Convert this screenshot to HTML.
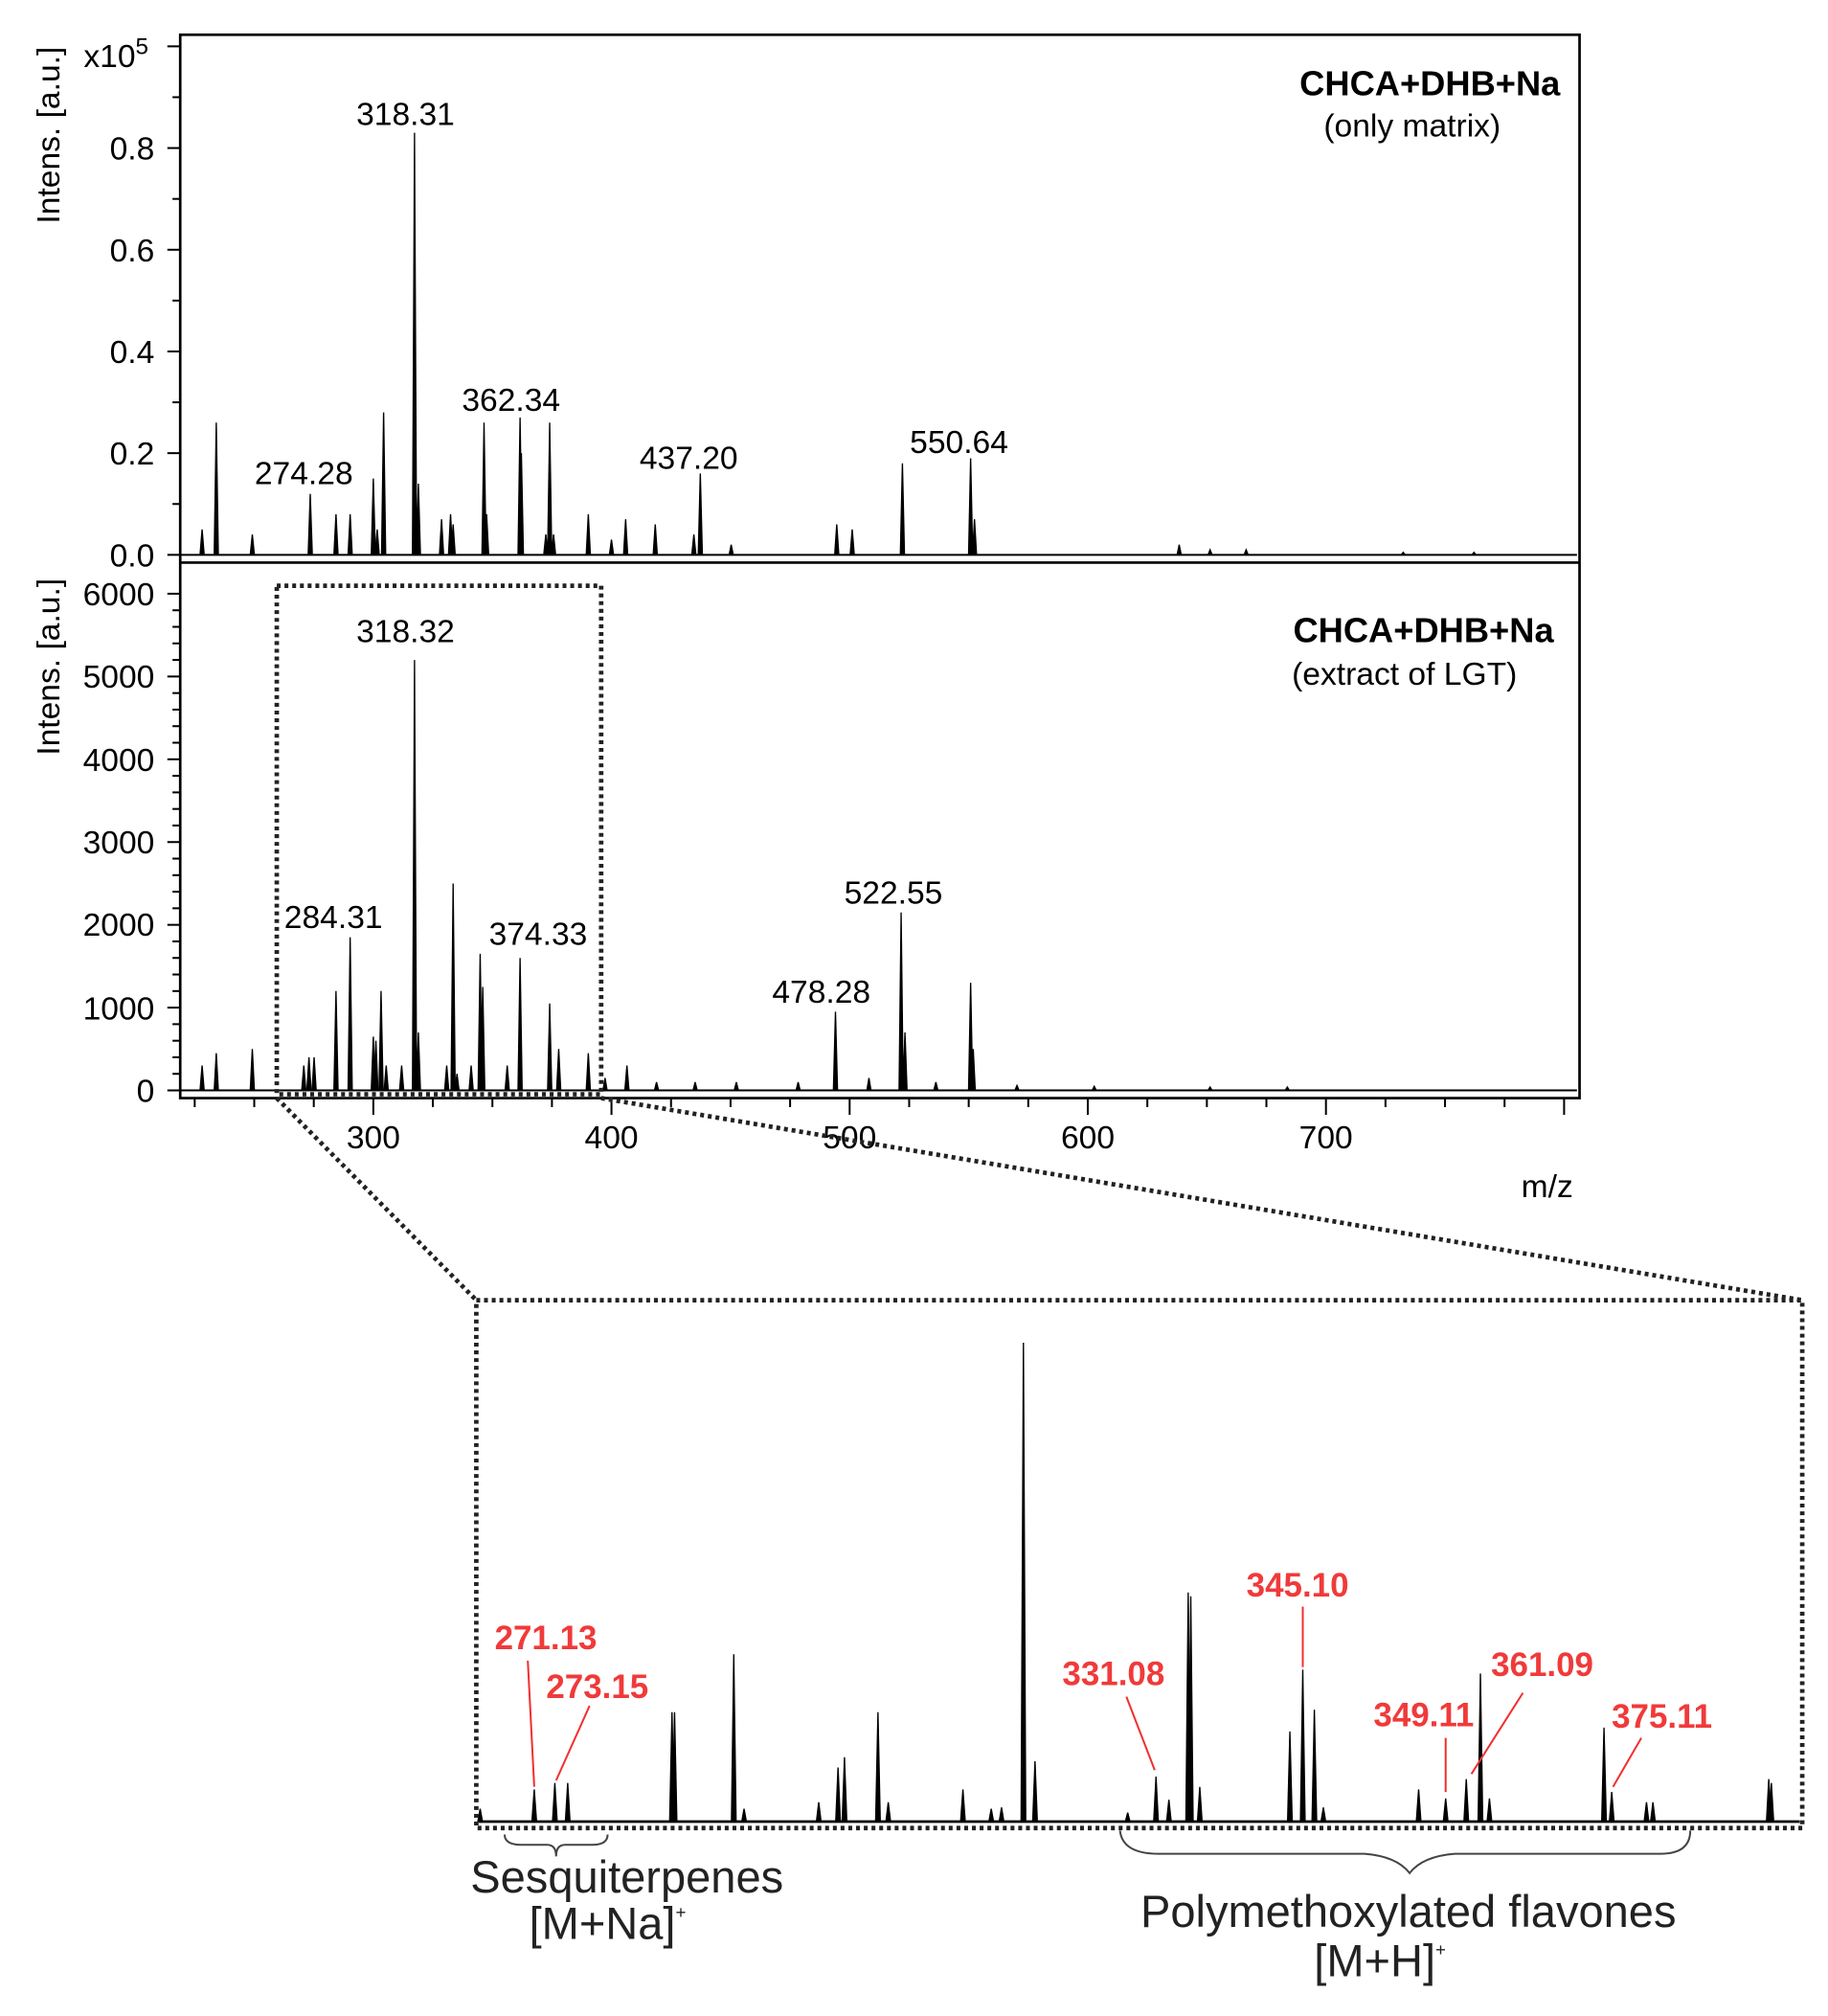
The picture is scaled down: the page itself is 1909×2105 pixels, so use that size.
<!DOCTYPE html>
<html><head><meta charset="utf-8"><style>
html,body{margin:0;padding:0;background:#fff;}
svg{display:block;}
text{font-family:"Liberation Sans",Arial,sans-serif;}
</style></head><body>
<svg id="s" width="1909" height="2105" viewBox="0 0 1420 1566" preserveAspectRatio="none" xmlns="http://www.w3.org/2000/svg">
<rect x="140" y="27" width="1087" height="826" fill="none" stroke="#000" stroke-width="2"/>
<line x1="140" y1="437" x2="1227" y2="437" stroke="#000" stroke-width="2"/>
<line x1="140" y1="431" x2="1225" y2="431" stroke="#000" stroke-width="1.5"/>
<line x1="140" y1="847" x2="1225" y2="847" stroke="#000" stroke-width="1.5"/>
<g id="ticks" stroke="#000" stroke-width="1.5"></g>
<g id="peaks" fill="#000" stroke="#000" stroke-width="1"></g>
<g font-size="25" fill="#000">
<text x="120" y="440" text-anchor="end">0.0</text>
<text x="120" y="361" text-anchor="end">0.2</text>
<text x="120" y="282" text-anchor="end">0.4</text>
<text x="120" y="203" text-anchor="end">0.6</text>
<text x="120" y="124" text-anchor="end">0.8</text>
<text x="65" y="52">x10<tspan font-size="18" dy="-10">5</tspan></text>
<text x="120" y="856" text-anchor="end">0</text>
<text x="120" y="792" text-anchor="end">1000</text>
<text x="120" y="727" text-anchor="end">2000</text>
<text x="120" y="663" text-anchor="end">3000</text>
<text x="120" y="599" text-anchor="end">4000</text>
<text x="120" y="534" text-anchor="end">5000</text>
<text x="120" y="470" text-anchor="end">6000</text>
<text transform="translate(46,105) rotate(-90)" text-anchor="middle">Intens. [a.u.]</text>
<text transform="translate(46,518) rotate(-90)" text-anchor="middle">Intens. [a.u.]</text>
<text x="290" y="892" text-anchor="middle">300</text>
<text x="475" y="892" text-anchor="middle">400</text>
<text x="660" y="892" text-anchor="middle">500</text>
<text x="845" y="892" text-anchor="middle">600</text>
<text x="1030" y="892" text-anchor="middle">700</text>
<text x="1222" y="930" text-anchor="end">m/z</text>
<text x="315" y="97" text-anchor="middle">318.31</text>
<text x="236" y="376" text-anchor="middle">274.28</text>
<text x="397" y="319" text-anchor="middle">362.34</text>
<text x="535" y="364" text-anchor="middle">437.20</text>
<text x="745" y="352" text-anchor="middle">550.64</text>
<text x="315" y="499" text-anchor="middle">318.32</text>
<text x="259" y="721" text-anchor="middle">284.31</text>
<text x="418" y="734" text-anchor="middle">374.33</text>
<text x="638" y="779" text-anchor="middle">478.28</text>
<text x="694" y="702" text-anchor="middle">522.55</text>
<text x="1212" y="74" text-anchor="end" font-weight="bold" font-size="27">CHCA+DHB+Na</text>
<text x="1097" y="106" text-anchor="middle">(only matrix)</text>
<text x="1207" y="499" text-anchor="end" font-weight="bold" font-size="27">CHCA+DHB+Na</text>
<text x="1091" y="532" text-anchor="middle">(extract of LGT)</text>
</g>
<g fill="none" stroke="#222" stroke-width="3.5" stroke-dasharray="3,3">
<rect x="215" y="455" width="252" height="395"/>
<line x1="215" y1="853" x2="370" y2="1010"/>
<line x1="467" y1="853" x2="1400" y2="1010"/>
<rect x="370" y="1010" width="1030" height="410"/>
</g>
<line x1="372" y1="1415" x2="1398" y2="1415" stroke="#000" stroke-width="2"/>
<g stroke="#f03030" stroke-width="1.5">
<line x1="410" y1="1290" x2="415" y2="1388"/>
<line x1="458" y1="1325" x2="432" y2="1383"/>
<line x1="875" y1="1318" x2="897" y2="1375"/>
<line x1="1012" y1="1248" x2="1012" y2="1295"/>
<line x1="1123" y1="1350" x2="1123" y2="1392"/>
<line x1="1183" y1="1315" x2="1143" y2="1378"/>
<line x1="1275" y1="1350" x2="1253" y2="1388"/>
</g>
<g font-size="26" font-weight="bold" fill="#f03a3a" text-anchor="middle">
<text x="424" y="1281">271.13</text>
<text x="464" y="1319">273.15</text>
<text x="865" y="1309">331.08</text>
<text x="1008" y="1240">345.10</text>
<text x="1106" y="1341">349.11</text>
<text x="1198" y="1302">361.09</text>
<text x="1291" y="1342">375.11</text>
</g>
<g fill="none" stroke="#444" stroke-width="1.5">
<path d="M392 1425 Q392 1433 405 1433 L425 1433 Q432 1433 432 1442 Q432 1433 439 1433 L460 1433 Q472 1433 472 1425"/>
<path d="M870 1422 Q872 1440 900 1440 L1060 1440 Q1085 1442 1095 1455 Q1105 1442 1130 1440 L1290 1440 Q1313 1440 1313 1422"/>
</g>
<g font-size="35" fill="#222" text-anchor="middle">
<text x="487" y="1470">Sesquiterpenes</text>
<text x="472" y="1506">[M+Na]<tspan font-size="14" dy="-16">+</tspan></text>
<text x="1094" y="1497">Polymethoxylated flavones</text>
<text x="1072" y="1535">[M+H]<tspan font-size="14" dy="-16">+</tspan></text>
</g>
</svg>
<script>
(function(){
var NS="http://www.w3.org/2000/svg";
var T=document.getElementById("ticks"),P=document.getElementById("peaks");
function ln(g,x1,y1,x2,y2){var l=document.createElementNS(NS,"line");l.setAttribute("x1",x1);l.setAttribute("y1",y1);l.setAttribute("x2",x2);l.setAttribute("y2",y2);g.appendChild(l);}
for(var i=0;i<=10;i++){var y=431-i*39.5;ln(T,i%2?134:130,y,140,y);}
for(var i=0;i<=30;i++){var y=847-i*12.86;if(y<445)break;ln(T,i%5?134:130,y,140,y);}
for(var m=225;m<=800;m+=25){var x=290+(m-300)*1.85;ln(T,x,853,x,m%100?860:866);}
function pk(x,t,base,w){var p=document.createElementNS(NS,"path");w=w||1.6;p.setAttribute("d","M"+(x-w)+" "+base+" L"+x+" "+t+" L"+(x+w)+" "+base+"Z");P.appendChild(p);}
var tp=[[157,.05],[168,.26],[196,.04],[241,.12],[261,.08],[272,.08],[290,.15],[293,.05],[298,.28],[322,.83],[325,.14],[343,.07],[350,.08],[352,.06],[376,.26],[378,.08],[404,.27],[405,.2],[427,.26],[424,.04],[430,.04],[457,.08],[475,.03],[486,.07],[509,.06],[544,.16],[539,.04],[568,.02],[650,.06],[662,.05],[701,.18],[754,.19],[757,.07],[916,.02],[968,.01],[940,.01],[1090,.005],[1145,.005]];
tp.forEach(function(a){pk(a[0],431-a[1]*395,431);});
var bt=[[157,300],[168,450],[196,500],[236,300],[240,400],[244,400],[261,1200],[272,1850],[290,650],[292,600],[296,1200],[300,300],[312,300],[322,5200],[325,700],[347,300],[352,2500],[355,200],[373,1650],[375,1250],[366,300],[394,300],[404,1600],[427,1050],[434,500],[457,450],[470,150],[487,300],[510,100],[540,100],[572,100],[620,100],[649,950],[675,150],[700,2150],[703,700],[727,100],[754,1300],[756,500],[790,60],[850,50],[940,40],[1000,40]];
bt.forEach(function(a){pk(a[0],847-a[1]*0.0643,847);});
var z=[[373,1405],[415,1390],[431,1385],[441,1385],[522,1330],[524,1330],[570,1285],[578,1405],[636,1400],[651,1373],[656,1365],[682,1330],[690,1400],[748,1390],[770,1405],[778,1404],[795,1043],[804,1368],[876,1408],[898,1380],[908,1398],[923,1237],[925,1240],[932,1388],[1002,1345],[1012,1297],[1021,1328],[1028,1404],[1102,1390],[1123,1397],[1139,1382],[1150,1300],[1157,1397],[1246,1342],[1252,1392],[1279,1400],[1284,1400],[1374,1382],[1376,1385]];
z.forEach(function(a){pk(a[0],a[1],1415,1.8);});
})();
</script>
</body></html>
